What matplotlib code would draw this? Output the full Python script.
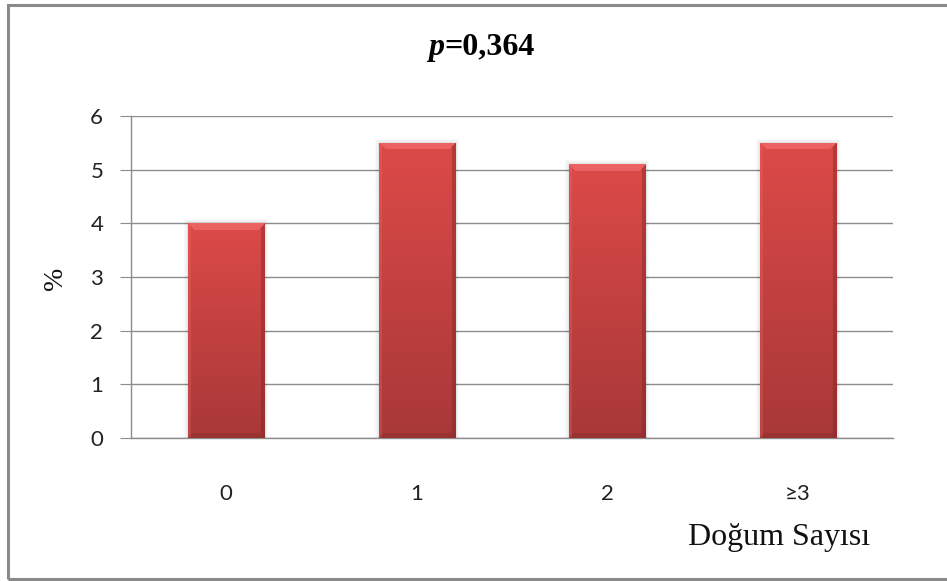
import numpy as np
import matplotlib
matplotlib.use("Agg")
import matplotlib.pyplot as plt
from matplotlib.colors import to_rgb
from matplotlib.patches import Rectangle

categories = ["0", "1", "2", "≥3"]
values = [4.0, 5.5, 5.1, 5.5]
yticks = [0, 1, 2, 3, 4, 5, 6]
title_p = "0,364"
xlabel = "Doğum Sayısı"
ylabel = "%"

W, H, DPI = 947, 581, 100
fig = plt.figure(figsize=(W / DPI, H / DPI), dpi=DPI)
fig.patch.set_facecolor("white")

# outer chart frame
fig.add_artist(Rectangle((8 / W, 2 / H), 1.2, (H - 6.5) / H, transform=fig.transFigure,
                         fill=False, edgecolor="#8a8a8a", linewidth=2.2, zorder=0))

L, R, T, B = 131, 893, 116, 438
ax = fig.add_axes([L / W, 1 - B / H, (R - L) / W, (B - T) / H])
x = np.arange(len(categories))
bars = ax.bar(x, values, width=0.4, color="#c84240", edgecolor="none", zorder=3)

ax.set_xlim(-0.5, len(categories) - 0.5)
ax.set_ylim(0, 6)
ax.set_yticks(yticks)
ax.set_xticks(x)
ax.set_xticklabels(categories)
ax.yaxis.grid(True, color="#8c8c8c", linewidth=1.0, zorder=0)
ax.set_axisbelow(True)
for s in ["top", "right"]:
    ax.spines[s].set_visible(False)
for s in ["left", "bottom"]:
    ax.spines[s].set_color("#8c8c8c")
    ax.spines[s].set_linewidth(1.0)
ax.tick_params(axis="y", length=8, color="#8c8c8c", pad=12, labelsize=16, labelcolor="#222222")
ax.tick_params(axis="x", length=0, pad=33, labelsize=16, labelcolor="#222222")
for lab in ax.get_xticklabels() + ax.get_yticklabels():
    lab.set_fontfamily("Lato")

# bevelled gradient fill for each bar
fig.canvas.draw()
top_c = np.array(to_rgb("#dc4a48"))
bot_c = np.array(to_rgb("#a83838"))
hi_c = np.array(to_rgb("#f27070"))
dark_c = np.array(to_rgb("#7a2424"))
for b in bars:
    x0, y0 = b.get_x(), b.get_y()
    bw, bh = b.get_width(), b.get_height()
    p0 = ax.transData.transform((x0, y0))
    p1 = ax.transData.transform((x0 + bw, y0 + bh))
    pw, ph = int(round(p1[0] - p0[0])), int(round(p1[1] - p0[1]))
    rows = np.linspace(0, 1, ph)[:, None, None]
    img = top_c * (1 - rows) + bot_c * rows
    img = np.repeat(img, pw, axis=1)
    bev = 7
    yy, xx = np.mgrid[0:ph, 0:pw]
    top_band = (yy < bev) & (xx >= yy) & (xx < pw - yy)
    img[top_band] = img[top_band] * 0.35 + hi_c * 0.65
    left_band = (xx < 3) & ~top_band
    img[left_band] = img[left_band] * 0.75 + hi_c * 0.25
    right_band = (xx >= pw - 4) & (pw - 1 - xx < yy) & ~top_band
    img[right_band] = img[right_band] * 0.6 + dark_c * 0.4
    bottom_band = (yy >= ph - 5) & (xx >= ph - 1 - yy) & (xx < pw - (ph - 1 - yy)) & ~right_band
    img[bottom_band] = img[bottom_band] * 0.7 + dark_c * 0.3
    im = ax.imshow(img, extent=(x0, x0 + bw, y0, y0 + bh), origin="upper",
                   aspect="auto", zorder=4, interpolation="bilinear")
    im.set_clip_path(b)
    # soft shadow
    for k, a in [(3, 0.025), (2, 0.035), (1, 0.05)]:
        ax.add_patch(Rectangle((x0, y0), bw, bh, fill=False, edgecolor="black",
                               linewidth=k * 2, alpha=a, zorder=2))

ax.set_xlim(-0.5, len(categories) - 0.5)
ax.set_ylim(0, 6)

fig.text(444 / W, 1 - 47 / H, "p", fontfamily="Liberation Serif", fontstyle="italic",
         fontweight="bold", fontsize=23, ha="right", va="center")
fig.text(444 / W, 1 - 47 / H, "=" + title_p, fontfamily="Liberation Serif",
         fontweight="bold", fontsize=23, ha="left", va="center")

fig.text(779 / W, 1 - 537 / H, xlabel, fontfamily="Liberation Serif", fontsize=23,
         ha="center", va="center", color="#111111")
fig.text(55 / W, 1 - 278 / H, ylabel, fontfamily="Liberation Serif", fontsize=20,
         ha="center", va="center", rotation=90, color="#111111")

fig.savefig("out.png", dpi=DPI)
